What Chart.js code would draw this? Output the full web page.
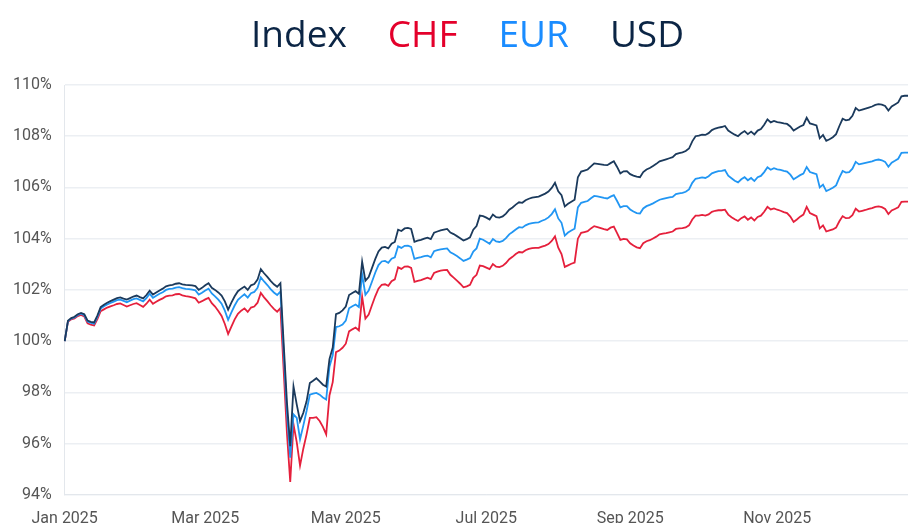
<!DOCTYPE html>
<html>
<head>
<meta charset="utf-8">
<script src="https://cdn.jsdelivr.net/npm/chart.js@4"></script>
<style>
  html, body { margin: 0; padding: 0; background: #fff; }
  #wrap { position: relative; width: 908px; height: 523px; overflow: hidden; }
  #title { position: absolute; top: 8px; left: 0; width: 908px; text-align: center; padding-left: 27px; box-sizing: border-box;
           font-family: "Open Sans", sans-serif; font-size: 37px; line-height: 50px; white-space: nowrap; }
  #title span { margin: 0 20.5px; }
  canvas { position: absolute; left: 0; top: 0; }
</style>
</head>
<body>
<div id="wrap">
  <canvas id="c" width="908" height="523"></canvas>
  <div id="title"></div>
</div>
<script>
// ---- data ----
const titleWords = ['Index', 'CHF', 'EUR', 'USD'];
const seriesNames = ['USD', 'EUR', 'CHF'];
const monthNames = ['Jan','Feb','Mar','Apr','May','Jun','Jul','Aug','Sep','Oct','Nov','Dec'];
const tickMonths = [0, 2, 4, 6, 8, 10];
const yTicks = [94, 96, 98, 100, 102, 104, 106, 108, 110];

const usd = [
100.00,100.80,100.90,100.95,101.05,101.10,101.05,100.80,100.75,100.73,
101.00,101.33,101.42,101.50,101.56,101.62,101.68,101.71,101.66,101.62,
101.68,101.74,101.78,101.72,101.67,101.80,101.97,101.82,101.90,101.98,
102.05,102.14,102.18,102.20,102.24,102.26,102.22,102.20,102.19,102.18,
102.15,102.00,102.08,102.18,102.26,102.08,102.00,101.90,101.78,101.55,
101.23,101.50,101.75,101.95,102.05,102.13,102.00,102.18,102.23,102.40,
102.81,102.65,102.51,102.35,102.22,102.12,102.26,99.90,97.60,95.90,
98.23,97.52,96.88,97.20,97.65,98.36,98.45,98.55,98.43,98.30,
98.23,99.30,99.75,101.05,101.10,101.20,101.35,101.80,101.88,101.95,
101.85,103.10,102.36,102.50,102.85,103.20,103.50,103.65,103.68,103.62,
103.80,103.87,104.35,104.30,104.40,104.42,104.38,103.88,103.92,103.95,
104.00,104.04,103.98,104.23,104.28,104.32,104.35,104.38,104.24,104.18,
104.10,104.02,103.93,103.98,104.05,104.35,104.49,104.90,104.88,104.82,
104.75,104.94,104.84,104.82,104.87,104.98,105.13,105.22,105.33,105.42,
105.40,105.50,105.56,105.60,105.62,105.64,105.70,105.76,105.84,105.98,
106.18,105.85,105.70,105.26,105.36,105.44,105.52,106.40,106.62,106.66,
106.70,106.82,106.94,106.92,106.90,106.88,106.87,106.95,107.02,106.80,
106.55,106.63,106.64,106.52,106.46,106.42,106.40,106.60,106.70,106.76,
106.84,106.92,107.02,107.06,107.10,107.14,107.18,107.30,107.34,107.37,
107.42,107.52,107.80,108.00,108.02,108.06,108.05,108.12,108.24,108.30,
108.34,108.36,108.40,108.22,108.14,108.06,108.00,108.12,108.20,108.08,
108.18,108.07,108.22,108.28,108.45,108.66,108.54,108.60,108.55,108.53,
108.50,108.48,108.38,108.22,108.30,108.38,108.44,108.72,108.50,108.46,
108.42,107.92,108.05,107.82,107.88,107.96,108.08,108.40,108.68,108.62,
108.65,108.80,109.10,109.00,109.04,109.08,109.12,109.16,109.22,109.25,
109.23,109.18,109.00,109.16,109.24,109.32,109.56,109.58,109.58
];

const eur = [
100.00,100.78,100.88,100.92,101.02,101.07,101.01,100.76,100.71,100.68,
100.95,101.27,101.36,101.43,101.49,101.54,101.60,101.62,101.57,101.52,
101.58,101.64,101.67,101.61,101.55,101.68,101.85,101.69,101.77,101.85,
101.91,102.00,102.04,102.05,102.09,102.11,102.07,102.04,102.03,102.01,
101.98,101.82,101.89,101.98,102.05,101.86,101.75,101.62,101.46,101.19,
100.83,101.12,101.39,101.61,101.73,101.83,101.70,101.87,101.92,102.08,
102.49,102.33,102.19,102.03,101.90,101.80,101.94,99.55,97.20,95.45,
97.14,97.00,96.17,96.70,97.27,97.91,97.95,97.98,97.91,97.80,
97.72,99.00,99.45,100.55,100.58,100.65,100.80,101.28,101.36,101.43,
101.33,102.60,101.81,101.97,102.32,102.67,102.97,103.11,103.13,103.06,
103.22,103.27,103.70,103.64,103.72,103.73,103.68,103.21,103.25,103.28,
103.32,103.34,103.27,103.51,103.55,103.58,103.60,103.62,103.47,103.40,
103.32,103.23,103.13,103.18,103.24,103.50,103.62,104.00,103.96,103.88,
103.80,103.99,103.89,103.87,103.91,104.02,104.17,104.26,104.36,104.45,
104.43,104.52,104.58,104.61,104.63,104.64,104.70,104.75,104.83,104.96,
105.15,104.79,104.62,104.12,104.24,104.32,104.39,105.22,105.40,105.44,
105.47,105.58,105.67,105.65,105.62,105.59,105.57,105.64,105.70,105.47,
105.22,105.27,105.27,105.14,105.06,105.00,104.98,105.18,105.27,105.32,
105.38,105.45,105.52,105.55,105.58,105.61,105.63,105.74,105.77,105.79,
105.83,105.92,106.18,106.34,106.36,106.39,106.37,106.44,106.55,106.60,
106.64,106.65,106.68,106.46,106.36,106.26,106.20,106.32,106.40,106.28,
106.37,106.25,106.40,106.45,106.60,106.79,106.69,106.75,106.71,106.69,
106.65,106.62,106.50,106.32,106.40,106.48,106.54,106.80,106.60,106.56,
106.52,106.00,106.11,105.86,105.92,105.99,106.08,106.38,106.64,106.58,
106.60,106.73,107.00,106.90,106.93,106.96,106.99,107.02,107.07,107.09,
107.06,107.00,106.81,106.97,107.04,107.12,107.35,107.36,107.36
];

const chf = [
100.00,100.76,100.85,100.89,100.98,101.02,100.96,100.70,100.64,100.61,
100.86,101.17,101.24,101.31,101.36,101.40,101.45,101.47,101.41,101.35,
101.40,101.45,101.48,101.41,101.34,101.46,101.62,101.46,101.54,101.61,
101.67,101.75,101.78,101.79,101.83,101.84,101.79,101.76,101.74,101.71,
101.67,101.50,101.56,101.63,101.69,101.48,101.35,101.18,100.98,100.67,
100.28,100.57,100.85,101.07,101.19,101.28,101.14,101.31,101.35,101.50,
101.88,101.71,101.56,101.40,101.26,101.15,101.29,98.85,96.40,94.50,
96.75,96.05,95.14,95.80,96.36,97.00,97.00,97.03,96.88,96.65,
96.36,97.88,98.40,99.57,99.63,99.74,99.90,100.38,100.46,100.53,
100.42,101.74,100.88,101.04,101.40,101.75,102.05,102.20,102.22,102.16,
102.34,102.41,102.88,102.82,102.91,102.92,102.86,102.31,102.35,102.38,
102.43,102.48,102.42,102.66,102.71,102.75,102.77,102.78,102.59,102.48,
102.36,102.24,102.10,102.14,102.20,102.47,102.59,102.95,102.93,102.87,
102.81,103.01,102.91,102.89,102.94,103.05,103.20,103.29,103.40,103.48,
103.46,103.55,103.60,103.63,103.64,103.64,103.69,103.73,103.79,103.91,
104.09,103.65,103.40,102.90,102.96,103.02,103.07,104.00,104.23,104.26,
104.29,104.40,104.49,104.45,104.41,104.37,104.34,104.43,104.47,104.22,
103.95,103.99,103.97,103.82,103.73,103.66,103.63,103.82,103.90,103.94,
104.01,104.08,104.17,104.20,104.22,104.25,104.28,104.38,104.40,104.41,
104.44,104.52,104.75,104.90,104.90,104.93,104.90,104.95,105.05,105.09,
105.11,105.11,105.13,104.94,104.84,104.76,104.69,104.80,104.87,104.74,
104.83,104.71,104.85,104.90,105.05,105.24,105.14,105.18,105.13,105.09,
105.04,105.00,104.86,104.65,104.75,104.86,104.94,105.24,105.00,104.94,
104.88,104.40,104.52,104.28,104.32,104.36,104.43,104.68,104.88,104.80,
104.81,104.92,105.17,105.06,105.09,105.12,105.16,105.19,105.24,105.26,
105.23,105.16,104.96,105.10,105.16,105.22,105.44,105.45,105.45
];

// ---- category labels: trading days (weekdays) of 2025 ----
const dates = [];
{
  const d = new Date(Date.UTC(2025, 0, 1));
  while (dates.length < usd.length) {
    const wd = d.getUTCDay();
    if (wd !== 0 && wd !== 6) dates.push(new Date(d.getTime()));
    d.setUTCDate(d.getUTCDate() + 1);
  }
}
const labels = dates.map(d => d.toISOString().slice(0, 10));
const tickText = {};
dates.forEach((d, i) => {
  const m = d.getUTCMonth();
  const prev = i > 0 ? dates[i - 1].getUTCMonth() : -1;
  if (m !== prev && tickMonths.includes(m)) tickText[i] = monthNames[m] + ' ' + d.getUTCFullYear();
});

// ---- title ----
const titleColors = ['#0b2545', '#e4002b', '#1a8cff', '#0b2545'];
document.getElementById('title').innerHTML =
  titleWords.map((w, i) => '<span style="color:' + titleColors[i] + '">' + w + '</span>').join('');

const lineColors = { USD: '#1b3a5c', EUR: '#2196f3', CHF: '#e5203c' };
const seriesData = { USD: usd, EUR: eur, CHF: chf };

new Chart(document.getElementById('c'), {
  type: 'line',
  data: {
    labels: labels,
    datasets: seriesNames.map(n => ({
      label: n,
      data: seriesData[n],
      borderColor: lineColors[n],
      backgroundColor: lineColors[n],
      borderWidth: 1.8,
      pointRadius: 0,
      tension: 0,
      fill: false
    }))
  },
  options: {
    responsive: false,
    animation: false,
    layout: { padding: { top: 85, right: 0, bottom: -21, left: 0 } },
    plugins: { legend: { display: false }, title: { display: false }, tooltip: { enabled: false } },
    scales: {
      x: {
        type: 'category',
        offset: false,
        grid: { display: false, drawTicks: false },
        border: { display: true, color: '#e3e7ec' },
        afterFit: (s) => { s.paddingLeft = 0; s.paddingRight = 0; },
        ticks: {
          autoSkip: false,
          maxRotation: 0,
          minRotation: 0,
          padding: 15,
          color: '#555',
          font: { family: 'Roboto, "Liberation Sans", sans-serif', size: 16 },
          callback: (v, i) => tickText[i] || ''
        }
      },
      y: {
        min: 94,
        max: 110,
        afterBuildTicks: (axis) => { axis.ticks = yTicks.map(v => ({ value: v })); },
        grid: { color: '#eceff3', drawTicks: false, lineWidth: 1.5 },
        border: { display: true, color: '#e3e7ec' },
        ticks: {
          padding: 13,
          color: '#555',
          font: { family: 'Roboto, "Liberation Sans", sans-serif', size: 16 },
          callback: v => v + '%'
        }
      }
    }
  }
});
</script>
</body>
</html>
